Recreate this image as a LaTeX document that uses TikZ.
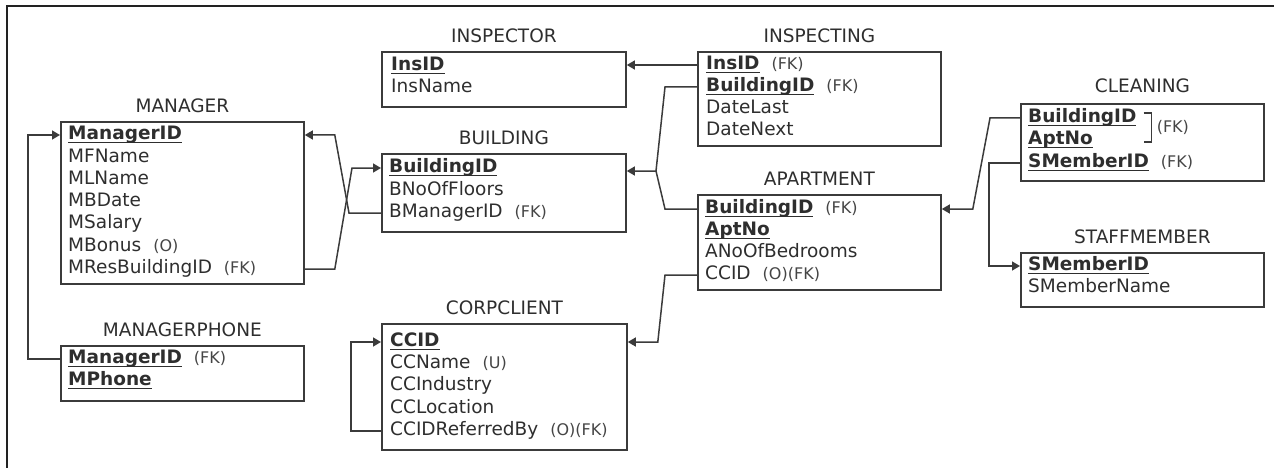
\documentclass[tikz,border=0pt]{standalone}
\usepackage{fontspec}
\setmainfont{DejaVu Sans}
\usetikzlibrary{arrows.meta,positioning,calc}
\definecolor{erline}{HTML}{3B3B3B}
\definecolor{ertext}{HTML}{2E2E2E}
\definecolor{erann}{HTML}{454545}
\definecolor{erframe}{HTML}{222222}
\newsavebox\pkbox
\newcommand\pkey[1]{\sbox\pkbox{\bfseries #1}\rlap{\rule[-3.8pt]{\wd\pkbox}{1.7pt}}\usebox\pkbox}
\newcommand\annot[1]{\hspace{12pt}{\fontsize{16}{18}\selectfont\color{erann}#1}}
\tikzset{
  tbl/.style={draw=erline,line width=1.8pt,anchor=north west,inner sep=0pt},
  ttl/.style={inner sep=0pt,text=ertext},
  row/.style={anchor=west,inner sep=0pt,text height=13.5pt,text depth=4.5pt,text=ertext},
  conn/.style={draw=erline,line width=1.5pt},
  ar/.style={conn,-{Triangle[length=8pt,width=9pt]}},
}

\begin{document}
\begin{tikzpicture}[x=1pt,y=-1pt,font=\fontsize{18.5}{22}\selectfont]
  \useasboundingbox (0,0) rectangle (1274,468);
  \draw[erframe,line width=2.5pt] (1285,6) -| (7,480);
  % tables
  \node[tbl,minimum width=243pt,minimum height=162pt] (mgr) at (60,121) {};
  \node[tbl,minimum width=243pt,minimum height=55pt] (mph) at (60,345) {};
  \node[tbl,minimum width=244pt,minimum height=55pt] (ins) at (381,51) {};
  \node[tbl,minimum width=244pt,minimum height=78pt] (bld) at (381,153) {};
  \node[tbl,minimum width=243pt,minimum height=94pt] (ig) at (697,51) {};
  \node[tbl,minimum width=243pt,minimum height=95pt] (apt) at (697,194) {};
  \node[tbl,minimum width=245pt,minimum height=126pt] (corp) at (381,323) {};
  \node[tbl,minimum width=243pt,minimum height=77pt] (cln) at (1020,103) {};
  \node[tbl,minimum width=243pt,minimum height=54pt] (stf) at (1020,252) {};
  % titles
  \node[ttl,above=8pt of mgr] (mgrt) {MANAGER};
  \node[ttl,above=8pt of mph] (mpht) {MANAGERPHONE};
  \node[ttl,above=8pt of ins] (inst) {INSPECTOR};
  \node[ttl,above=8pt of bld] (bldt) {BUILDING};
  \node[ttl,above=8pt of ig] (igt) {INSPECTING};
  \node[ttl,above=8pt of apt] (aptt) {APARTMENT};
  \node[ttl,above=8pt of corp] (corpt) {CORPCLIENT};
  \node[ttl,above=10pt of cln] (clnt) {CLEANING};
  \node[ttl,above=8pt of stf] (stft) {STAFFMEMBER};
  % rows
  \node[row] (m1) at (68,135) {\pkey{ManagerID}};
  \foreach \i/\y/\t in {2/158/MFName,3/180/MLName,4/202/MBDate,5/224/MSalary,6/247/{MBonus\annot{(O)}},7/269/{MResBuildingID\annot{(FK)}}}
    \node[row] (m\i) at (68,\y) {\t};
  \node[row] (p1) at (68,359) {\pkey{ManagerID}\annot{(FK)}};
  \node[row] (p2) at (68,381) {\pkey{MPhone}};
  \node[row] (i1) at (391,66) {\pkey{InsID}};
  \node[row] (i2) at (391,88) {InsName};
  \node[row] (b1) at (389,168) {\pkey{BuildingID}};
  \node[row] (b2) at (389,191) {BNoOfFloors};
  \node[row] (b3) at (389,213) {BManagerID\annot{(FK)}};
  \node[row] (ig1) at (706,65) {\pkey{InsID}\annot{(FK)}};
  \node[row] (ig2) at (706,87) {\pkey{BuildingID}\annot{(FK)}};
  \node[row] (ig3) at (706,109) {DateLast};
  \node[row] (ig4) at (706,131) {DateNext};
  \node[row] (a1) at (705,209) {\pkey{BuildingID}\annot{(FK)}};
  \node[row] (a2) at (705,231) {\pkey{AptNo}};
  \node[row] (a3) at (705,253) {ANoOfBedrooms};
  \node[row] (a4) at (705,275) {CCID\annot{(O)(FK)}};
  \node[row] (c1) at (390,342) {\pkey{CCID}};
  \foreach \i/\y/\t in {2/364/{CCName\annot{(U)}},3/386/CCIndustry,4/409/CCLocation,5/431/{CCIDReferredBy\annot{(O)(FK)}}}
    \node[row] (c\i) at (390,\y) {\t};
  \node[row] (cl1) at (1028,118) {\pkey{BuildingID}};
  \node[row] (cl2) at (1028,140) {\pkey{AptNo}};
  \node[row] (cl3) at (1028,163) {\pkey{SMemberID}\annot{(FK)}};
  \node[row] (s1) at (1028,266) {\pkey{SMemberID}};
  \node[row] (s2) at (1028,288) {SMemberName};
  % bracket for the composite key
  \coordinate (brk) at ($(cl1.east)+(7,0)$);
  \draw[conn] ($(brk)+(0,-5)$) -- ++(8,0) -- ++(0,29) -- ++(-8,0);
  \node[row,font=\fontsize{16}{18}\selectfont,text=erann] (clfk) at ($(brk)+(13,10)$) {(FK)};
  % connectors
  \draw[ar] (ig1 -| ig.west) -- (ig1 -| ins.east);
  \coordinate (jb) at (656,171);
  \draw[ar] (ig2 -| ig.west) -- ++(-32,0) -- (jb) -- (jb -| bld.east);
  \draw[conn] (a1 -| apt.west) -- ++(-32,0) -- (jb);
  \draw[ar] (m7 -| mgr.east) -- ++(30,0) -- ($(b1 -| bld.west)+(-29,0)$) -- (b1 -| bld.west);
  \draw[ar] (b3 -| bld.west) -- ++(-32,0) -- ($(m1 -| mgr.east)+(30,0)$) -- (m1 -| mgr.east);
  \draw[ar] (p1 -| mph.west) -- ++(-32,0) |- (m1 -| mgr.west);
  \draw[ar] (a4 -| apt.west) -- ++(-32,0) -- ($(c1 -| corp.east)+(30,0)$) -- (c1 -| corp.east);
  \draw[ar] (c5 -| corp.west) -- ++(-30,0) |- (c1 -| corp.west);
  \draw[ar] (cl1 -| cln.west) -- ++(-30,0) -- ($(a1 -| apt.east)+(31,0)$) -- (a1 -| apt.east);
  \draw[ar] (cl3 -| cln.west) -- ++(-31,0) |- (s1 -| stf.west);
\end{tikzpicture}
\end{document}
